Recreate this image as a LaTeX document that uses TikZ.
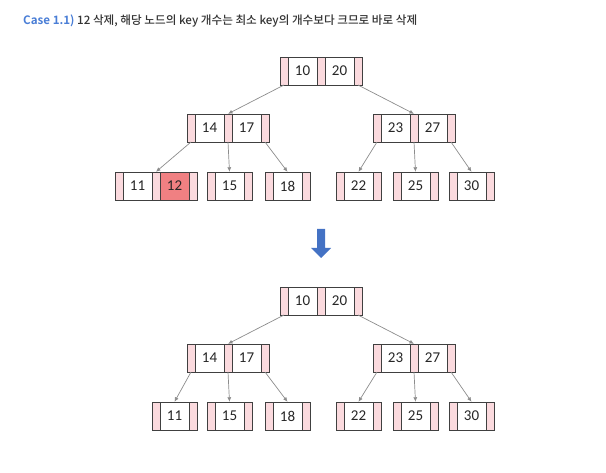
\documentclass[tikz,border=0pt]{standalone}
\usepackage{fontspec}
\setmainfont{Carlito}
\newfontfamily\krfont{Noto Sans CJK KR}[UprightFont=* Medium,BoldFont=* Bold]
\usetikzlibrary{arrows.meta,positioning,fit}

\definecolor{ptrpink}{RGB}{251,218,222}
\definecolor{hotkey}{RGB}{240,128,130}
\definecolor{edgegray}{RGB}{64,64,64}
\definecolor{linkgray}{RGB}{140,140,140}
\definecolor{caseblue}{RGB}{74,126,214}
\definecolor{downblue}{RGB}{68,114,196}

% b-tree node: [highlighted key]{name}{north west corner}{keys}
\newcommand\bnode[4][0]{%
  \node[ptrcell,anchor=north west] (#2-p0) at (#3) {};
  \foreach \k [count=\i] in {#4} {
    \pgfmathtruncatemacro\j{\i-1}
    \ifnum\i=#1 \def\c{hotkey}\else\def\c{white}\fi
    \node[keycell,fill=\c,right=0pt of #2-p\j] (#2-k\i) {\k};
    \node[ptrcell,right=0pt of #2-k\i] (#2-p\i) {};
    \node[fit=(#2-p0)(#2-p\i),inner sep=0pt] (#2) {};
  }
}

\begin{document}
\begin{tikzpicture}[x=1pt,y=-1pt,
    bcell/.style={draw=edgegray,line width=0.9pt,outer sep=0pt,inner sep=0pt,minimum height=28pt},
    ptrcell/.style={bcell,fill=ptrpink,minimum width=8pt},
    keycell/.style={bcell,minimum width=29pt,text=black!85,font=\fontsize{15}{15}\selectfont},
    link/.style={draw=linkgray,line width=0.7pt,-{Latex[length=4.5pt,width=4pt]}}]
  \useasboundingbox (0,0) rectangle (606,473);
  \node[anchor=base west,inner sep=0pt,text=black!80,font=\krfont\fontsize{11.6}{12}\selectfont] (title) at (23,25)
    {{\color{caseblue}\bfseries Case 1.1)} 12 삭제, 해당 노드의 key 개수는 최소 key의 개수보다 크므로 바로 삭제};

  % before
  \bnode{r}{280,57}{10,20}
  \bnode{a}{187,114}{14,17}
  \bnode{b}{373,114}{23,27}
  \bnode[2]{a1}{115,172}{11,12}
  \bnode{a2}{207,172}{15}
  \bnode{a3}{265,172}{18}
  \bnode{b1}{336,172}{22}
  \bnode{b2}{393,172}{25}
  \bnode{b3}{449,172}{30}
  \draw[link] (r-p0.south) -- (a.north);
  \draw[link] (r-p2.south) -- (b.north);
  \foreach \u in {a,b}
    \foreach \c [count=\i from 0] in {1,2,3}
      \draw[link] (\u-p\i.south) -- (\u\c.north);

  \fill[downblue] (317,229) -- (325,229) -- (325,248) -- (331,248) -- (321,258)
    -- (311,248) -- (317,248) -- cycle;

  % after
  \begin{scope}[yshift=-230pt]
    \bnode{R}{280,57}{10,20}
    \bnode{A}{187,114}{14,17}
    \bnode{B}{373,114}{23,27}
    \bnode{A1}{152,172}{11}
    \bnode{A2}{207,172}{15}
    \bnode{A3}{265,172}{18}
    \bnode{B1}{336,172}{22}
    \bnode{B2}{393,172}{25}
    \bnode{B3}{449,172}{30}
    \draw[link] (R-p0.south) -- (A.north);
    \draw[link] (R-p2.south) -- (B.north);
    \foreach \u in {A,B}
      \foreach \c [count=\i from 0] in {1,2,3}
        \draw[link] (\u-p\i.south) -- (\u\c.north);
  \end{scope}
\end{tikzpicture}
\end{document}
